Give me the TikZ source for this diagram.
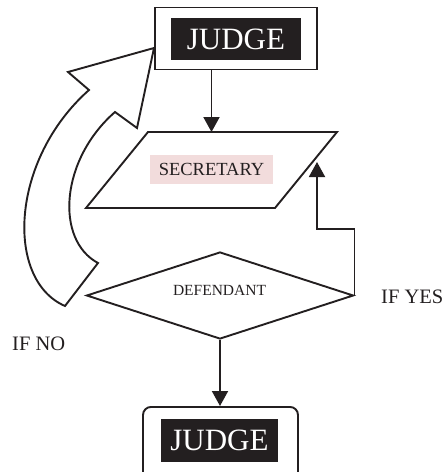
\documentclass[tikz,border=0pt]{standalone}
\usepackage{fontspec}
\setmainfont{Liberation Serif}
\usetikzlibrary{arrows.meta,shapes.geometric}
\definecolor{inkblack}{HTML}{231F20}
\definecolor{pinkbg}{HTML}{F2DCDC}
\begin{document}
\begin{tikzpicture}[x=1pt,y=-1pt,
  line/.style={line width=1.9pt, draw=inkblack},
  arr/.style={line, -{Triangle[length=15pt,width=16pt]}},
  frame/.style={draw=inkblack, line width=1.9pt, fill=white, inner sep=0pt},
  blackbox/.style={fill=inkblack, text=white, inner sep=0pt, font=\fontsize{31}{31}\selectfont},
  lbl/.style={inner sep=0pt, text=inkblack}]
\useasboundingbox (0,0) rectangle (445,472);
\clip (0,0) rectangle (445,472);

% top judge
\node[frame, minimum width=162pt, minimum height=62pt] (judgeframe) at (236,38.5) {};
\node[blackbox, minimum width=130pt, minimum height=42pt] (judge) at (236,39) {JUDGE};

% hollow curved arrow (IF NO)
\draw[line, line join=miter, fill=white] (154,48) -- (68,72) -- (89,90)
  .. controls (10,160) and (5,280) .. (65,306) -- (98,263)
  .. controls (55,240) and (60,160) .. (115,112) -- (137,128) -- cycle;

% secretary parallelogram
\coordinate (p1) at (148,132);
\coordinate (p2) at (337,132);
\coordinate (p3) at (275,208);
\coordinate (p4) at (86,208);
\draw[line, line join=miter] (p1) -- (p2) -- (p3) -- (p4) -- cycle;
\node[fill=pinkbg, minimum width=123pt, minimum height=29pt, inner sep=0pt, text=inkblack,
  font=\fontsize{18.5}{18.5}\selectfont] (sec) at (211.5,169.5) {SECRETARY};

\draw[arr] (judgeframe.south -| sec.center) -- (sec.center |- p1);

% defendant diamond
\node[diamond, draw=inkblack, line width=1.9pt, minimum width=267pt, minimum height=87pt,
  inner sep=0pt, aspect=3] (def) at (220,295.5) {};
\node[lbl, font=\fontsize{15.5}{15.5}\selectfont] (deflabel) at (219.5,290) {DEFENDANT};

% IF YES connector
\coordinate (yesturn) at (317,229);
\coordinate (yesend) at (317,162);
\draw[arr] (def.east) -- (def.east |- yesturn) -- (yesturn) -- (yesend);

% bottom judge
\node[frame, rounded corners=8pt, minimum width=155pt, minimum height=90pt, anchor=north] (judgeframe2) at (220.5,406) {};
\node[blackbox, minimum width=117pt, minimum height=43pt] (judge2) at (219.5,440.5) {JUDGE};
\draw[arr] (def.south) -- (def.south |- judgeframe2.north);

% labels
\node[lbl, anchor=base west, font=\fontsize{20.5}{20.5}\selectfont] (ifyes) at (381,303) {IF YES};
\node[lbl, anchor=base west, font=\fontsize{20.5}{20.5}\selectfont] (ifno) at (12,350) {IF NO};
\end{tikzpicture}
\end{document}
